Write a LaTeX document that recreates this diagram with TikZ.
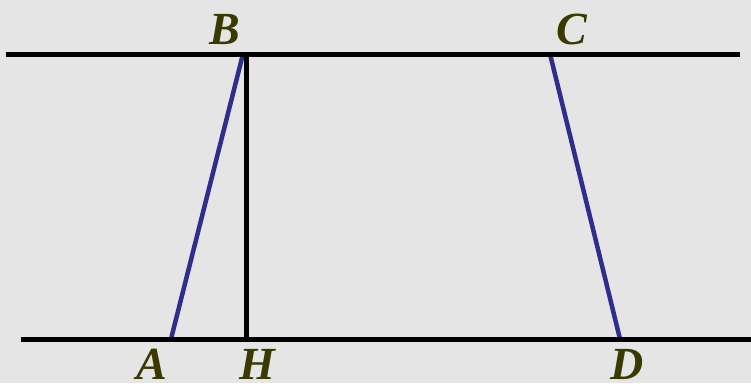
\documentclass[tikz,border=0pt]{standalone}
\usepackage{fontspec}
\setmainfont{Liberation Serif}
\definecolor{bgc}{RGB}{229,229,229}
\definecolor{segblue}{RGB}{46,46,140}
\definecolor{lbl}{RGB}{58,58,0}
\begin{document}
\begin{tikzpicture}[x=1pt,y=-1pt,
  thickline/.style={line width=5pt,black},
  blueline/.style={line width=4.5pt,segblue},
  lab/.style={anchor=base,inner sep=0pt,text=lbl,font=\fontsize{46}{46}\selectfont\bfseries\itshape}]
\fill[bgc] (0,0) rectangle (751,383);
\useasboundingbox (0,0) rectangle (751,383);
\coordinate (L1) at (6,54);
\coordinate (R1) at (740,54);
\coordinate (L2) at (21,339);
\coordinate (R2) at (751,339);
\coordinate (B) at (243,54);
\coordinate (Bt) at (246,54);
\coordinate (H) at (246,339);
\coordinate (A) at (171,339);
\coordinate (C) at (550,54);
\coordinate (D) at (620,339);
\draw[blueline] (A) -- (B);
\draw[blueline] (C) -- (D);
\draw[thickline] (Bt) -- (H);
\draw[thickline] (L1) -- (R1);
\draw[thickline] (L2) -- (R2);
\node[lab] (lB) at (225,44) {B};
\node[lab] (lC) at (572,44) {C};
\node[lab] (lA) at (152,379) {A};
\node[lab] (lH) at (257,379) {H};
\node[lab] (lD) at (627,379) {D};
\end{tikzpicture}
\end{document}
